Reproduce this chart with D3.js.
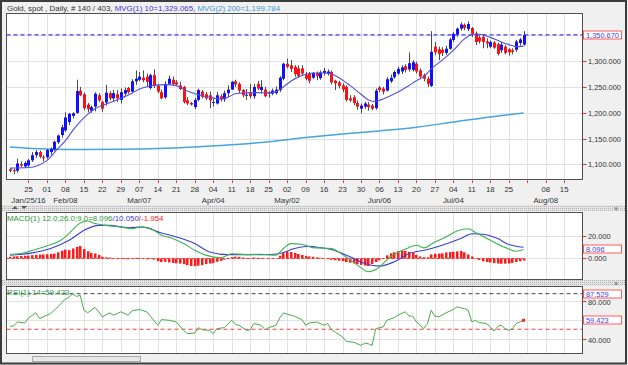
<!DOCTYPE html>
<html>
<head>
<meta charset="utf-8">
<script src="https://cdn.jsdelivr.net/npm/d3@7"></script>
<style>
  body { margin: 0; background: #f0f0f0; }
  svg { display: block; font-family: "Liberation Sans", Arial, sans-serif; }
</style>
</head>
<body>
<svg id="chart" width="628" height="365"></svg>
<script>
// daily candles, Jan 18 2016 (day 0) .. Jul 29 2016 (day 139)
var opens = [1091,1089,1088,1101,1096,1098,1108,1118,1124,1114, 1114,1124,1129,1143,1157,1166,1182,1194,1200,1243,
  1236,1216,1204,1212,1234,1221,1220,1238,1228,1236, 1225,1237,1248,1241,1261,1264,1268,1270,1248,1273,
  1252,1240,1230,1256,1264,1259,1253,1250,1224,1219, 1211,1225,1241,1236,1234,1219,1218,1232,1226,1238,
  1245,1261,1256,1244,1233,1240,1232,1256,1244,1245, 1240,1237,1238,1244,1266,1295,1292,1289,1286,1286,
  1273,1276,1268,1277,1267,1277,1276,1279,1262,1259, 1253,1250,1228,1230,1219,1208,1212,1216,1214,1209,
  1249,1247,1243,1261,1269,1276,1280,1290,1284,1283, 1295,1282,1273,1266,1252,1328,1323,1322,1316,1324,
  1341,1351,1363,1370,1362,1364,1354,1346,1347,1338, 1328,1336,1333,1321,1328,1323,1321,1322,1335,1332];
var highs = [1093,1092,1111,1106,1106,1111,1124,1128,1127,1118, 1130,1133,1146,1158,1177,1201,1200,1201,1264,1250,
  1239,1219,1214,1240,1238,1224,1254,1242,1244,1244, 1247,1249,1250,1265,1282,1279,1282,1276,1276,1284,
  1256,1245,1261,1272,1270,1263,1260,1252,1230,1221, 1229,1247,1244,1240,1241,1227,1240,1236,1243,1253,
  1262,1264,1259,1246,1246,1256,1256,1262,1263,1250, 1242,1247,1251,1271,1297,1305,1302,1292,1292,1292,
  1279,1279,1279,1280,1282,1287,1284,1282,1264,1262, 1257,1253,1234,1234,1224,1218,1221,1221,1217,1247,
  1252,1250,1269,1274,1282,1289,1292,1294,1317,1302, 1299,1286,1276,1270,1358,1337,1328,1327,1330,1345,
  1356,1365,1375,1373,1377,1366,1357,1350,1351,1344, 1340,1339,1336,1337,1331,1325,1325,1341,1345,1358];
var lows = [1085,1081,1084,1094,1093,1096,1105,1113,1112,1106, 1111,1119,1126,1140,1152,1163,1176,1189,1198,1232,
  1205,1201,1200,1203,1221,1202,1214,1224,1223,1221, 1218,1233,1237,1239,1254,1261,1259,1250,1245,1248,
  1238,1226,1227,1254,1252,1253,1244,1218,1215,1214, 1207,1222,1228,1225,1209,1212,1216,1222,1221,1230,
  1244,1250,1238,1230,1225,1228,1227,1244,1237,1230, 1229,1234,1235,1240,1263,1286,1279,1270,1268,1273,
  1263,1257,1265,1263,1264,1272,1272,1255,1244,1247, 1240,1222,1221,1215,1206,1199,1208,1204,1205,1206,
  1240,1236,1241,1258,1266,1273,1275,1278,1280,1280, 1276,1266,1261,1250,1250,1312,1302,1310,1312,1322,
  1337,1347,1359,1360,1358,1347,1331,1334,1325,1325, 1325,1324,1311,1316,1313,1311,1313,1318,1330,1330];
var closes = [1088,1087,1102,1098,1103,1108,1118,1124,1115,1112, 1128,1130,1144,1156,1172,1191,1198,1199,1242,1234,
  1209,1207,1211,1237,1224,1208,1239,1228,1238,1228, 1240,1244,1240,1261,1266,1270,1263,1260,1273,1252,
  1241,1228,1256,1266,1256,1255,1246,1221,1218,1216, 1225,1244,1231,1228,1224,1221,1234,1226,1238,1245,
  1260,1255,1243,1234,1235,1232,1250,1247,1250,1232, 1237,1243,1245,1268,1295,1289,1285,1275,1271,1276,
  1266,1262,1277,1271,1278,1281,1280,1259,1257,1252, 1245,1225,1224,1219,1212,1214,1218,1211,1208,1243,
  1244,1241,1265,1268,1279,1285,1288,1283,1296,1298, 1280,1270,1266,1256,1318,1317,1314,1316,1324,1342,
  1353,1363,1371,1364,1372,1353,1337,1338,1337,1334, 1337,1326,1314,1332,1316,1317,1318,1338,1342,1350.67];

// moving averages
var ma10Days = [0,5,10,13,15,17,19,21,23,26,28,30,33,35,38,41,44,46,48,51,54,57,59,61,64,67,70,72,74,76,79,82,85,87,89,92,95,97,99,100,103,106,108,110,112,114,117,120,123,125,127,130,133,135,137,139];
var ma10Values = [1093,1094,1108,1131,1146,1166,1183,1197,1208,1217,1222,1228,1238,1246,1252,1254,1254,1250,1242,1235,1230,1227,1230,1237,1238.5,1239,1238.5,1241,1250,1261,1272,1277,1277,1275,1268,1253,1236,1225,1222,1224,1233,1244,1253,1262,1270,1285,1302,1321,1343,1351,1352,1346,1337,1332,1328,1329.065];
var ma200Days = [0,10,20,30,40,50,60,70,80,90,100,110,120,130,139];
var ma200Values = [1134,1130,1129,1129.5,1131,1134,1138,1144,1152,1159,1165,1172,1182,1192,1199.784];
var lastPrice = 1350.67;

// MACD(12,26,9)
var macdDays = [0,3,6,10,13,15,17,19,21,23,26,30,33,35,38,41,44,47,50,53,57,60,64,68,72,74,76,79,82,87,90,94,97,99,103,107,110,112,115,118,121,124,126,130,134,137,139];
var macdValues = [3.5,4.4,7.2,11.5,15,19.5,26,32,33.8,31.5,29.8,28.3,26.8,28.3,27,21,18,13.4,7.4,3,0.6,4.3,3.5,3.8,2.9,9,13.4,12.8,9.8,8.9,3.5,-6,-12,-10,1.5,8.5,11.9,9.5,14.9,19.4,24.7,26.8,23.5,16.4,10,6.5,8.096];
var signalDays = [0,6,11,16,20,24,27,32,36,41,45,50,54,59,65,70,73,77,81,84,87,92,96,100,104,108,113,117,122,125,128,132,135,139];
var signalValues = [2.9,5,8.9,16.4,25.3,29.8,29.8,27.7,28.3,22.9,19.4,13.4,5.9,3.5,3.5,3.5,4.4,8.9,11,9.8,8,1.5,-4.5,-6.9,-3,4.45,8,11.9,17.9,22.3,21.8,17.9,12.5,10.05];
var histValues = [1.5,1.8,2.0,2.2,2.4,2.6,3.0,3.3,3.5,3.6, 3.8,4.0,4.4,5.5,7.0,8.0,7.5,9.0,10.5,11.2,
  8.5,6.5,5.0,4.5,3.2,1.5,1.0,0.8,0.3,-0.2, -0.4,-0.6,-0.8,0.2,0.6,0.5,-0.3,-0.8,-0.4,-1.0,
  -2.5,-3.2,-3.0,-3.6,-4.0,-4.4,-4.6,-5.2,-6.0,-6.8, -7.0,-6.5,-6.0,-5.0,-4.6,-4.2,-3.0,-2.2,-1.0,0.2,
  1.2,1.6,1.4,0.8,0.5,0.3,0.8,0.6,0.4,0.0, -0.3,-0.2,0.0,2.5,4.8,6.0,5.8,5.0,4.0,3.2,
  2.3,1.8,1.4,1.0,0.6,0.2,-0.6,-1.2,-1.6,-2.0, -2.4,-3.2,-3.8,-4.4,-5.2,-5.8,-6.4,-6.8,-5.0,-3.2,
  -1.6,0.2,2.8,4.6,5.6,6.6,6.9,6.8,6.0,5.0, 3.2,1.8,1.2,1.0,3.6,4.2,4.4,4.6,5.4,5.8,
  6.0,6.4,6.8,5.6,3.6,1.8,0.2,-1.4,-2.6,-3.2, -3.6,-4.2,-4.6,-4.8,-4.7,-4.5,-4.0,-3.2,-2.5,-1.954];

// RSI(14)
var rsiDays = [0,1,2,4,5,7,8,10,11,13,15,16,17,18,19,20,21,23,24,25,27,28,30,32,33,35,37,38,40,41,43,45,47,48,50,51,52,54,55,56,58,60,61,62,64,65,66,68,69,70,72,73,74,75,77,79,80,81,83,85,86,87,88,90,91,93,95,96,97,98,99,100,101,102,104,105,107,108,109,110,112,113,114,115,116,118,120,121,122,123,124,125,126,127,128,129,130,131,132,133,134,135,136,137,138,139];
var rsiValues = [53.1,53.5,57.7,56.6,62,67.3,61.3,64.8,66.6,73.7,82,84,87.529,84.5,86,70.1,67.3,73,68.4,63,67.3,64.8,68.4,64.8,69.4,70.8,68.4,63.7,54.2,60.2,59.5,57.7,48.8,45.3,46,51.7,49.5,48.8,45.3,50.6,51.7,59.5,55.2,54.2,48.8,49.5,56,54.2,49.5,51.7,54.2,62,67.3,65.9,63.7,60.2,54.2,56.6,57.7,54.2,56,49.5,47.1,41.8,37.1,36.4,32.9,35.4,34.7,32.9,50.6,51.7,52.4,59.5,62.3,64.8,68.4,64,63.7,57.7,50.6,56,70.1,63.7,63,67.3,70.8,73.7,72.5,71.9,70.1,57.7,59.5,57,56.6,56,52.4,48.1,53,54.2,50.6,48.8,50.6,56,57.7,59.423];
var rsiUpper = 87.529, rsiLower = 50;

// axis labels
var dayLabels = ["25","01","08","15","22","29","07","14","21","28","04","11","18","25","02","09","16","23","30","06","13","20","27","04","11","18","25","","08","15"];
var monthLabels = ["Jan/25/16","Feb/08","Mar/07","Apr/04","May/02","Jun/06","Jul/04","Aug/08"];
var monthTickIdx = [0,2,6,10,14,19,23,28];
var priceTicks = [1100,1150,1200,1250,1300,1350];
var priceLabels = [1100,1150,1200,1250,1300];   // 1350 sits under the last-price box
var macdTicks = [0,20];
var rsiTicks = [40,60,80];
var rsiLabels = [40,80];                        // 60 sits under the RSI value box

var svg = d3.select("#chart");
var left = 6.5, right = 582.5;
var mainP = {top: 13.5, bottom: 179.5},
    macdP = {top: 212.5, bottom: 279.5},
    rsiP = {top: 286.5, bottom: 353.5};

var x = d3.scaleLinear().domain([-0.95, 154.95]).range([left, right]);
var y = d3.scaleLinear().domain([1070.9, 1392.2]).range([mainP.bottom, mainP.top]);
var yM = d3.scaleLinear().domain([-18.98, 41.45]).range([macdP.bottom, macdP.top]);
var yR = d3.scaleLinear().domain([24.4, 95.1]).range([rsiP.bottom, rsiP.top]);

var tickDays = dayLabels.map(function(d, k) { return 5 + 5 * k; });
var fmtPrice = d3.format(",.3f");

// window frame
svg.append("rect").attr("x", 0).attr("y", 0).attr("width", 628).attr("height", 365).attr("fill", "#f0f0f0");

var defs = svg.append("defs");
var pat = defs.append("pattern").attr("id", "hatch").attr("width", 2).attr("height", 2)
    .attr("patternUnits", "userSpaceOnUse");
pat.append("rect").attr("width", 2).attr("height", 2).attr("fill", "#e4e4e4");
pat.append("rect").attr("width", 1).attr("height", 1).attr("fill", "#b4b4b4");

[mainP, macdP, rsiP].forEach(function(p, n) {
    defs.append("clipPath").attr("id", "clip" + n)
      .append("rect").attr("x", left).attr("y", p.top).attr("width", right - left).attr("height", p.bottom - p.top);
});

// separators
[[205, 6], [280, 6]].forEach(function(s) {
    svg.append("rect").attr("x", 2).attr("y", s[0]).attr("width", 623).attr("height", s[1]).attr("fill", "url(#hatch)");
    svg.append("text").attr("x", 614).attr("y", s[0] + 5.5).attr("font-size", 7).attr("fill", "#555").text("\u00d7");
});
svg.append("path").attr("d", "M12,209 L15,206 L18,209 Z M21,206 L27,206 L24,209 Z").attr("fill", "#555");

// panel backgrounds and grids
function panel(p, yScale, ticks, n) {
    svg.append("rect").attr("x", left).attr("y", p.top).attr("width", right - left).attr("height", p.bottom - p.top)
       .attr("fill", "#fff");
    var g = svg.append("g").attr("clip-path", "url(#clip" + n + ")");
    g.selectAll(".vg").data(tickDays).enter().append("line")
       .attr("x1", function(d) { return Math.round(x(d)) + 0.5; })
       .attr("x2", function(d) { return Math.round(x(d)) + 0.5; })
       .attr("y1", p.top).attr("y2", p.bottom)
       .attr("stroke", "#e2e2e2");
    g.selectAll(".hg").data(ticks).enter().append("line")
       .attr("x1", left).attr("x2", right)
       .attr("y1", function(d) { return Math.round(yScale(d)) + 0.5; })
       .attr("y2", function(d) { return Math.round(yScale(d)) + 0.5; })
       .attr("stroke", "#e2e2e2");
    return g;
}

var gMain = panel(mainP, y, priceTicks, 0);
var gMacd = panel(macdP, yM, macdTicks, 1);
var gRsi = panel(rsiP, yR, rsiTicks, 2);

// main: moving average 200
gMain.append("path")
    .datum(ma200Days.map(function(d, k) { return [d, ma200Values[k]]; }))
    .attr("fill", "none").attr("stroke", "#45a5dc").attr("stroke-width", 1.5)
    .attr("d", d3.line().curve(d3.curveMonotoneX)
        .x(function(d) { return x(d[0]); }).y(function(d) { return y(d[1]); }));

// candles
var days = d3.range(closes.length);
gMain.selectAll(".wick").data(days).enter().append("line")
    .attr("x1", function(d) { return Math.round(x(d)) + 0.5; })
    .attr("x2", function(d) { return Math.round(x(d)) + 0.5; })
    .attr("y1", function(d) { return y(highs[d]); })
    .attr("y2", function(d) { return y(lows[d]); })
    .attr("stroke", "#4a4a4a").attr("stroke-width", 1);
gMain.selectAll(".body").data(days).enter().append("rect")
    .attr("x", function(d) { return Math.round(x(d)) - 1; })
    .attr("width", 3)
    .attr("y", function(d) { return y(Math.max(opens[d], closes[d])); })
    .attr("height", function(d) { return Math.max(1, Math.abs(y(opens[d]) - y(closes[d]))); })
    .attr("fill", function(d) { return closes[d] >= opens[d] ? "#1010ff" : "#ff1010"; });

// moving average 10
gMain.append("path")
    .datum(ma10Days.map(function(d, k) { return [d, ma10Values[k]]; }))
    .attr("fill", "none").attr("stroke", "#5050dd").attr("stroke-width", 1.1)
    .attr("d", d3.line().curve(d3.curveMonotoneX)
        .x(function(d) { return x(d[0]); }).y(function(d) { return y(d[1]); }));

// last price line
gMain.append("line").attr("x1", left).attr("x2", right)
    .attr("y1", y(lastPrice)).attr("y2", y(lastPrice))
    .attr("stroke", "#3a3aff").attr("stroke-width", 1.2).attr("stroke-dasharray", "4,3");

// MACD
gMacd.selectAll(".hist").data(days).enter().append("rect")
    .attr("x", function(d) { return Math.round(x(d)) - 1; })
    .attr("width", 2.5)
    .attr("y", function(d) { return Math.min(yM(0), yM(histValues[d])); })
    .attr("height", function(d) { return Math.abs(yM(histValues[d]) - yM(0)); })
    .attr("fill", "#ff1a1a");
gMacd.append("line").attr("x1", left).attr("x2", x(139)).attr("y1", yM(0)).attr("y2", yM(0))
    .attr("stroke", "#ff3030").attr("stroke-dasharray", "3,2");
gMacd.append("path")
    .datum(signalDays.map(function(d, k) { return [d, signalValues[k]]; }))
    .attr("fill", "none").attr("stroke", "#3c3cdc").attr("stroke-width", 1.1)
    .attr("d", d3.line().curve(d3.curveMonotoneX)
        .x(function(d) { return x(d[0]); }).y(function(d) { return yM(d[1]); }));
gMacd.append("path")
    .datum(macdDays.map(function(d, k) { return [d, macdValues[k]]; }))
    .attr("fill", "none").attr("stroke", "#3cb44e").attr("stroke-width", 1.1)
    .attr("d", d3.line().curve(d3.curveMonotoneX)
        .x(function(d) { return x(d[0]); }).y(function(d) { return yM(d[1]); }));

// RSI
gRsi.append("line").attr("x1", left).attr("x2", right).attr("y1", yR(rsiUpper)).attr("y2", yR(rsiUpper))
    .attr("stroke", "#444").attr("stroke-dasharray", "4,3");
gRsi.append("line").attr("x1", left).attr("x2", right).attr("y1", yR(rsiLower)).attr("y2", yR(rsiLower))
    .attr("stroke", "#ff3a3a").attr("stroke-dasharray", "4,3");
gRsi.append("path")
    .datum(rsiDays.map(function(d, k) { return [d, rsiValues[k]]; }))
    .attr("fill", "none").attr("stroke", "#48ac48").attr("stroke-width", 1)
    .attr("d", d3.line().x(function(d) { return x(d[0]); }).y(function(d) { return yR(d[1]); }));
gRsi.append("rect").attr("x", x(139) - 1.5).attr("y", yR(rsiValues[rsiValues.length - 1]) - 1.5)
    .attr("width", 3).attr("height", 3).attr("fill", "#ff2020");

// panel borders
[mainP, macdP, rsiP].forEach(function(p) {
    svg.append("rect").attr("x", left).attr("y", p.top).attr("width", right - left).attr("height", p.bottom - p.top)
       .attr("fill", "none").attr("stroke", "#505050");
});

// right axes
function rightAxis(yScale, ticks, labels, fmt, dy) {
    var g = svg.append("g");
    g.selectAll("line").data(ticks).enter().append("line")
       .attr("x1", right).attr("x2", right + 4)
       .attr("y1", function(d) { return Math.round(yScale(d)) + 0.5; })
       .attr("y2", function(d) { return Math.round(yScale(d)) + 0.5; })
       .attr("stroke", "#e03030");
    g.selectAll("text").data(labels).enter().append("text")
       .attr("x", right + 5.5).attr("y", function(d) { return yScale(d); }).attr("dy", dy)
       .attr("font-size", 7.4).attr("fill", "#333").text(function(d) { return fmt(d); });
}
rightAxis(y, priceTicks, priceLabels, fmtPrice, "0.4em");
rightAxis(yM, macdTicks, macdTicks, d3.format(".3f"), "0.4em");
rightAxis(yR, rsiTicks, rsiLabels, d3.format(".3f"), "0.62em");

function valueBox(v, yScale, label) {
    var yy = Math.round(yScale(v));
    svg.append("rect").attr("x", right + 1).attr("y", yy - 4).attr("width", 38).attr("height", 8)
       .attr("fill", "#fff").attr("stroke", "#ff5a5a");
    svg.append("text").attr("x", right + 3.5).attr("y", yy).attr("dy", "0.34em")
       .attr("font-size", 7.4).attr("fill", "#3a3aff").text(label);
}
valueBox(lastPrice, y, fmtPrice(lastPrice));
valueBox(macdValues[macdValues.length - 1], yM, d3.format(".3f")(macdValues[macdValues.length - 1]));
valueBox(rsiUpper, yR, d3.format(".3f")(rsiUpper));
valueBox(rsiValues[rsiValues.length - 1], yR, d3.format(".3f")(rsiValues[rsiValues.length - 1]));

// bottom date axis
var gx = svg.append("g");
gx.selectAll("line").data(tickDays).enter().append("line")
    .attr("x1", function(d) { return Math.round(x(d)) + 0.5; })
    .attr("x2", function(d) { return Math.round(x(d)) + 0.5; })
    .attr("y1", mainP.bottom + 1).attr("y2", mainP.bottom + 3.5)
    .attr("stroke", "#e03030");
gx.selectAll(".day").data(dayLabels).enter().append("text")
    .attr("x", function(d, k) { return x(tickDays[k]); }).attr("y", 192)
    .attr("text-anchor", "middle").attr("font-size", 7.8).attr("fill", "#333")
    .text(function(d) { return d; });
gx.selectAll(".month").data(monthLabels).enter().append("text")
    .attr("x", function(d, k) { return x(tickDays[monthTickIdx[k]]); }).attr("y", 202.5)
    .attr("text-anchor", "middle").attr("font-size", 7.8).attr("fill", "#333")
    .text(function(d) { return d; });

// headers
var head = svg.append("text").attr("x", 7).attr("y", 11).attr("font-size", 7.9);
head.append("tspan").attr("fill", "#333").text("Gold, spot , Daily, # 140 / 403, ");
head.append("tspan").attr("fill", "#3a3adc").text("MVG(1) 10=" + fmtPrice(ma10Values[ma10Values.length - 1]) + ", ");
head.append("tspan").attr("fill", "#3a9ad8").text("MVG(2) 200=" + fmtPrice(ma200Values[ma200Values.length - 1]));

var mh = svg.append("text").attr("x", 7).attr("y", 220.5).attr("font-size", 7.9);
mh.append("tspan").attr("fill", "#2a9a3a").text("MACD(1) 12.0;26.0;9.0=8.096");
mh.append("tspan").attr("fill", "#3a3adc").text("/10.050");
mh.append("tspan").attr("fill", "#ff2020").text("/-1.954");

svg.append("text").attr("x", 7).attr("y", 294.5).attr("font-size", 7.9).attr("fill", "#2a9a3a")
    .text("RSI(1) 14=" + d3.format(".3f")(rsiValues[rsiValues.length - 1]));

// scrollbar strip at the bottom
svg.append("rect").attr("x", 32.5).attr("y", 356.5).attr("width", 108).attr("height", 5)
    .attr("fill", "#e8e8e8").attr("stroke", "#a8a8a8");

// outer border
svg.append("rect").attr("x", 1).attr("y", 1).attr("width", 625).attr("height", 362.5)
    .attr("fill", "none").attr("stroke", "#3c3c3c").attr("stroke-width", 2);
</script>
</body>
</html>
